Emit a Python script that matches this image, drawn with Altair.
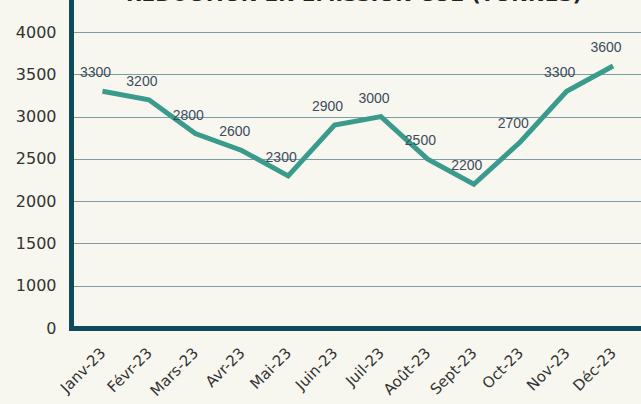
import altair as alt
import pandas as pd

# Monthly CO2 emission reduction (tonnes), 2023
months = ["Janv-23", "Févr-23", "Mars-23", "Avr-23", "Mai-23", "Juin-23",
          "Juil-23", "Août-23", "Sept-23", "Oct-23", "Nov-23", "Déc-23"]
reduction = [3300, 3200, 2800, 2600, 2300, 2900, 3000, 2500, 2200, 2700, 3300, 3600]
y_ticks = [500, 1000, 1500, 2000, 2500, 3000, 3500, 4000]
title_text = "RÉDUCTION EN ÉMISSION CO2 (TONNES)"

df = pd.DataFrame({"mois": months, "tonnes": reduction})
title_df = pd.DataFrame({"t": [title_text]})

BG = "#f8f7ef"
AXIS = "#0e4a5c"
LINE = "#3a9a8c"

x = alt.X("mois:N", sort=months, title=None,
          scale=alt.Scale(type="point", padding=0.64, align=0.53),
          axis=alt.Axis(labelAngle=-45, labelAlign="right", labelBaseline="middle",
                        labelFont="DejaVu Sans", labelFontSize=15, labelColor="#333333",
                        labelPadding=22, ticks=False, domainColor=AXIS, domainWidth=5,
                        domainCap="square", grid=False))
y = alt.Y("tonnes:Q", title=None,
          scale=alt.Scale(domain=[500, 4380], nice=False, zero=False),
          axis=alt.Axis(values=y_ticks, labelExpr="datum.value == 500 ? '0' : datum.value",
                        labelFont="DejaVu Sans", labelFontSize=16, labelColor="#333333",
                        labelPadding=15, ticks=False, domainColor=AXIS, domainWidth=5,
                        domainCap="square", grid=True, gridColor="#7a9ca5", gridWidth=1))

base = alt.Chart(df)
line = base.mark_line(color=LINE, strokeWidth=5, strokeJoin="miter").encode(x=x, y=y)
labels = base.mark_text(font="Liberation Sans", fontSize=14, color="#3d4b5c",
                        dx=-7, dy=-18, baseline="middle").encode(
    x=alt.X("mois:N", sort=months), y="tonnes:Q", text="tonnes:Q")
title = alt.Chart(title_df).mark_text(font="DejaVu Sans", fontSize=20, fontWeight="bold",
                                      color="#222222", align="center",
                                      baseline="alphabetic").encode(
    x=alt.value(283), y=alt.value(1), text="t:N")

chart = alt.layer(line, labels, title).properties(
    width=570, height=328,
    autosize=alt.AutoSizeParams(type="none"),
    padding={"left": 71, "top": 0, "right": 0, "bottom": 76},
    background=BG,
).configure_view(stroke=None).configure_axisY(gridOpacity=1)

chart.save("out.html", embed_options={"renderer": "svg", "actions": False})
